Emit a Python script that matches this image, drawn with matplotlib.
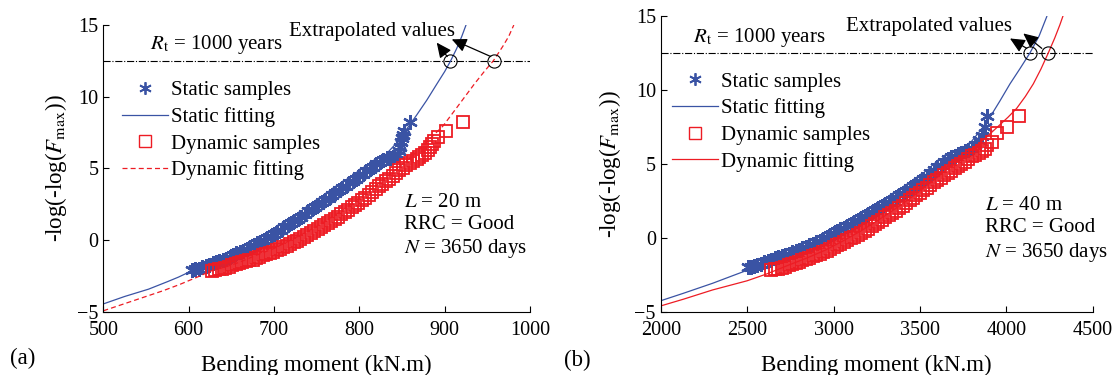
import matplotlib
matplotlib.use('Agg')
import matplotlib.pyplot as plt
from matplotlib.lines import Line2D

plt.rcParams['font.family'] = ['Liberation Serif', 'DejaVu Serif']
plt.rcParams['mathtext.fontset'] = 'stix'
plt.rcParams['font.size'] = 15

BLUE = '#3a53a4'
RED = '#ed1c24'

# ---- panel (a): L = 20 m ----
a_static_x = [604, 608, 612, 616, 620, 624, 628, 632, 636, 640, 644, 648, 652, 656, 660,
              664, 668, 672, 676, 680, 684, 688, 692, 696, 700, 704, 708, 712, 716, 720,
              724, 728, 732, 736, 740, 744, 748, 752, 756, 760, 764, 768, 772, 776, 780,
              784, 788, 792, 796, 800, 804, 808, 812, 816, 820, 824, 828, 832, 836, 840,
              845, 847, 848, 849, 850, 851, 852, 859]
a_static_y = [-2.10, -2.05, -2.00, -1.90, -1.80, -1.72, -1.63, -1.55, -1.48, -1.40, -1.30,
              -1.18, -1.05, -0.95, -0.85, -0.75, -0.65, -0.52, -0.38, -0.25, -0.12, 0.02,
              0.15, 0.28, 0.42, 0.55, 0.72, 0.88, 1.02, 1.15, 1.30, 1.45, 1.62, 1.80, 2.00,
              2.13, 2.30, 2.45, 2.62, 2.78, 2.95, 3.12, 3.28, 3.45, 3.62, 3.78, 3.95, 4.12,
              4.28, 4.45, 4.62, 4.78, 4.95, 5.12, 5.30, 5.45, 5.60, 5.75, 5.70, 5.80, 5.90,
              6.20, 6.50, 6.80, 7.10, 7.35, 7.60, 8.20]
a_dyn_x = [627, 631, 635, 639, 643, 647, 651, 655, 659, 663, 667, 671, 675, 679, 683,
           687, 691, 695, 699, 703, 707, 711, 715, 719, 723, 727, 731, 735, 739, 743,
           747, 751, 755, 759, 763, 767, 771, 775, 779, 783, 787, 791, 795, 799, 803,
           807, 811, 815, 819, 823, 827, 831, 835, 839, 843, 847, 851, 855, 859, 863,
           867, 870, 874, 877, 880, 883, 885, 887, 892, 902, 922]
a_dyn_y = [-2.15, -2.10, -2.05, -2.00, -1.93, -1.86, -1.78, -1.71, -1.63, -1.56, -1.50,
           -1.43, -1.37, -1.28, -1.18, -1.08, -0.98, -0.90, -0.83, -0.73, -0.63, -0.52,
           -0.42, -0.30, -0.18, -0.07, 0.05, 0.18, 0.32, 0.45, 0.60, 0.73, 0.90, 1.03,
           1.17, 1.33, 1.48, 1.62, 1.78, 1.94, 2.10, 2.27, 2.43, 2.60, 2.77, 2.95, 3.13,
           3.33, 3.53, 3.73, 3.90, 4.08, 4.25, 4.45, 4.65, 4.85, 5.05, 5.20, 5.38, 5.52,
           5.65, 5.80, 5.95, 6.10, 6.30, 6.50, 6.70, 6.90, 7.20, 7.60, 8.20]
a_sfit_x = [500, 525, 553, 575, 588, 604, 620, 640, 660, 680, 700, 720, 740, 760, 780,
            800, 815, 830, 845, 858, 867, 879, 891, 900, 907, 914, 920, 925]
a_sfit_y = [-4.47, -3.95, -3.44, -2.92, -2.6, -2.15, -1.8, -1.35, -0.85, -0.3, 0.3, 0.95,
            1.7, 2.5, 3.4, 4.35, 5.1, 5.9, 6.85, 7.95, 8.7, 9.75, 10.9, 11.75, 12.5, 13.35,
            14.2, 15.0]
a_dfit_x = [500, 525, 550, 570, 590, 610, 627, 645, 660, 680, 700, 720, 740, 760, 780,
            800, 820, 840, 860, 880, 898, 910, 925, 935, 947, 957, 968, 975, 981]
a_dfit_y = [-4.95, -4.45, -3.95, -3.55, -3.1, -2.6, -2.15, -1.85, -1.55, -1.05, -0.6, 0.0,
            0.6, 1.3, 2.05, 2.9, 3.8, 4.75, 5.75, 6.9, 7.95, 8.9, 10.1, 10.9, 11.8, 12.5,
            13.5, 14.2, 15.0]
a_circles_x = [906, 958]

# ---- panel (b): L = 40 m ----
b_static_x = [2505, 2520, 2540, 2560, 2580, 2600, 2620, 2640, 2660, 2680, 2700, 2720,
              2740, 2760, 2780, 2800, 2820, 2840, 2860, 2880, 2900, 2920, 2940, 2960,
              2980, 3000, 3020, 3040, 3060, 3080, 3100, 3120, 3140, 3160, 3180, 3200,
              3220, 3240, 3260, 3280, 3300, 3320, 3340, 3360, 3380, 3400, 3420, 3440,
              3460, 3480, 3500, 3520, 3540, 3560, 3580, 3600, 3620, 3640, 3660, 3680,
              3700, 3720, 3740, 3760, 3780, 3800, 3820, 3840, 3860, 3877, 3890]
b_static_y = [-2.00, -1.96, -1.90, -1.83, -1.75, -1.66, -1.57, -1.48, -1.39, -1.31, -1.23,
              -1.15, -1.07, -0.98, -0.89, -0.80, -0.71, -0.62, -0.52, -0.42, -0.31, -0.19,
              -0.07, 0.06, 0.19, 0.32, 0.45, 0.57, 0.69, 0.82, 0.95, 1.08, 1.21, 1.33,
              1.47, 1.60, 1.73, 1.86, 2.00, 2.15, 2.29, 2.43, 2.57, 2.72, 2.87, 3.03, 3.18,
              3.33, 3.50, 3.65, 3.81, 3.97, 4.15, 4.35, 4.55, 4.75, 4.95, 5.13, 5.30, 5.45,
              5.55, 5.65, 5.75, 5.85, 5.95, 6.08, 6.30, 6.60, 6.90, 7.50, 8.20]
b_dyn_x = [2640, 2660, 2680, 2700, 2720, 2740, 2760, 2780, 2800, 2820, 2840, 2860, 2880,
           2900, 2920, 2940, 2960, 2980, 3000, 3020, 3040, 3060, 3080, 3100, 3120, 3140,
           3160, 3180, 3200, 3220, 3240, 3260, 3280, 3300, 3320, 3340, 3360, 3380, 3400,
           3420, 3440, 3460, 3480, 3500, 3520, 3540, 3560, 3580, 3600, 3620, 3640, 3660,
           3680, 3700, 3720, 3740, 3760, 3780, 3800, 3820, 3840, 3860, 3875, 3886, 3915,
           3944, 4005, 4076]
b_dyn_y = [-2.15, -2.12, -2.08, -2.02, -1.95, -1.87, -1.79, -1.70, -1.61, -1.53, -1.44,
           -1.35, -1.26, -1.17, -1.07, -0.97, -0.87, -0.76, -0.64, -0.52, -0.40, -0.28,
           -0.16, -0.04, 0.08, 0.20, 0.32, 0.46, 0.61, 0.76, 0.91, 1.06, 1.22, 1.37, 1.52,
           1.68, 1.83, 2.00, 2.17, 2.34, 2.52, 2.69, 2.86, 3.03, 3.21, 3.39, 3.57, 3.74,
           3.90, 4.06, 4.22, 4.38, 4.54, 4.70, 4.85, 5.00, 5.15, 5.33, 5.50, 5.62, 5.75,
           5.88, 6.00, 6.25, 6.50, 7.05, 7.50, 8.20]
b_sfit_x = [2000, 2130, 2300, 2420, 2500, 2600, 2700, 2800, 2900, 3000, 3100, 3200, 3300,
            3400, 3500, 3600, 3700, 3780, 3850, 3900, 3963, 4021, 4080, 4137, 4190, 4234]
b_sfit_y = [-4.26, -3.76, -3.08, -2.55, -2.2, -1.8, -1.35, -0.9, -0.42, 0.1, 0.65, 1.25,
            1.9, 2.6, 3.4, 4.3, 5.3, 6.25, 7.25, 8.05, 9.25, 10.4, 11.45, 12.5, 13.65, 14.95]
b_dfit_x = [2000, 2130, 2300, 2500, 2613, 2740, 2850, 2950, 3050, 3157, 3260, 3363, 3470,
            3570, 3690, 3800, 3880, 3950, 4010, 4060, 4110, 4156, 4200, 4243, 4280, 4310, 4328]
b_dfit_y = [-4.61, -4.16, -3.53, -2.91, -2.45, -1.85, -1.35, -0.85, -0.25, 0.45, 1.2, 2.0,
            2.9, 3.8, 4.9, 5.95, 6.75, 7.5, 8.15, 8.75, 9.55, 10.4, 11.4, 12.5, 13.5, 14.4, 15.0]
b_circles_x = [4137, 4243]

rt_level = 12.5

fig = plt.figure(figsize=(11.17, 3.75), dpi=100)
axa = fig.add_axes([0.0925, 0.1693, 0.382, 0.764])
axb = fig.add_axes([0.5915, 0.1688, 0.3868, 0.789])


def draw_panel(ax, sx, sy, dx, dy, sfx, sfy, dfx, dfy, cx, dyn_ls, xlim, xticks,
               rt_pos, ext_pos, arrows, info_pos, info_L, leg_anchor, tag, tag_pos, lab_x):
    ax.axhline(rt_level, color='black', ls='-.', lw=0.8)
    ax.plot(sx, sy, ls='none', marker=(6, 2, 0), ms=10.5, mew=1.7, color=BLUE)
    ax.plot(sfx, sfy, '-', color=BLUE, lw=0.9)
    ax.plot(dx, dy, ls='none', marker='s', ms=8.5, mfc='none', mew=1.3, color=RED)
    ax.plot(dfx, dfy, ls=dyn_ls, color=RED, lw=0.9)
    ax.plot(cx, [rt_level] * len(cx), ls='none', marker='o', ms=9.5, mfc='none',
            mec='black', mew=0.8)
    for tail, head in arrows:
        ax.annotate('', xy=head, xytext=tail,
                    arrowprops=dict(arrowstyle='-|>,head_length=0.6,head_width=0.28',
                                    color='black', lw=0.9, shrinkA=0, shrinkB=0))
    ax.text(rt_pos[0], rt_pos[1], r'$R_{\mathrm{t}}$ = 1000 years', ha='left', va='baseline')
    ax.text(ext_pos[0], ext_pos[1], 'Extrapolated values', ha='left', va='baseline')
    ax.text(info_pos[0], info_pos[1], '$L$ = %s m\nRRC = Good\n$N$ = 3650 days' % info_L,
            transform=ax.transAxes, ha='left', va='top', linespacing=1.22)

    handles = [Line2D([], [], ls='none', marker=(6, 2, 0), ms=9, mew=1.3, color=BLUE),
               Line2D([], [], ls='-', color=BLUE, lw=0.9),
               Line2D([], [], ls='none', marker='s', ms=8, mfc='none', mew=1.0, color=RED),
               Line2D([], [], ls=dyn_ls, color=RED, lw=0.9)]
    labels = ['Static samples', 'Static fitting', 'Dynamic samples', 'Dynamic fitting']
    ax.legend(handles, labels, loc='upper left', bbox_to_anchor=leg_anchor, frameon=False,
              borderpad=0, borderaxespad=0, handlelength=2.2, handletextpad=0.15,
              labelspacing=0.33, fontsize=15)

    ax.set_xlim(xlim)
    ax.set_ylim(-5, 15)
    ax.set_xticks(xticks)
    ax.set_yticks([-5, 0, 5, 10, 15])
    ax.tick_params(direction='in', length=4, width=0.8, labelsize=14.5)
    ax.tick_params(axis='x', pad=7)
    ax.spines['top'].set_visible(False)
    ax.spines['right'].set_visible(False)
    ax.set_xlabel('Bending moment (kN.m)', fontsize=16.5)
    ax.set_ylabel('-log(-log($F_{\\mathrm{max}}$))', fontsize=16.5)
    ax.xaxis.set_label_coords(0.5, lab_x[1])
    ax.yaxis.set_label_coords(lab_x[0], 0.5)
    fig.text(tag_pos[0], tag_pos[1], tag, fontsize=16.5, ha='left', va='center')


draw_panel(axa, a_static_x, a_static_y, a_dyn_x, a_dyn_y, a_sfit_x, a_sfit_y,
           a_dfit_x, a_dfit_y, a_circles_x, (0, (4, 2.5)), (500, 1000), range(500, 1001, 100),
           (554.7, 13.3), (718, 14.23),
           [((903, 12.8), (890.7, 13.77)), ((954, 12.8), (908.3, 14.0))],
           (0.704, 0.415), '20', (0.044, 0.805), '(a)', (0.009, 0.045), (-0.08, -0.15))

draw_panel(axb, b_static_x, b_static_y, b_dyn_x, b_dyn_y, b_sfit_x, b_sfit_y,
           b_dfit_x, b_dfit_y, b_circles_x, '-', (2000, 4500), range(2000, 4501, 500),
           (2185, 13.24), (3074, 14.0),
           [((4118, 12.8), (4021, 13.47)), ((4205, 12.8), (4098, 13.81))],
           (0.75, 0.39), '40', (0.026, 0.81), '(b)', (0.505, 0.04), (-0.087, -0.146))

fig.savefig('out.png', dpi=100)
